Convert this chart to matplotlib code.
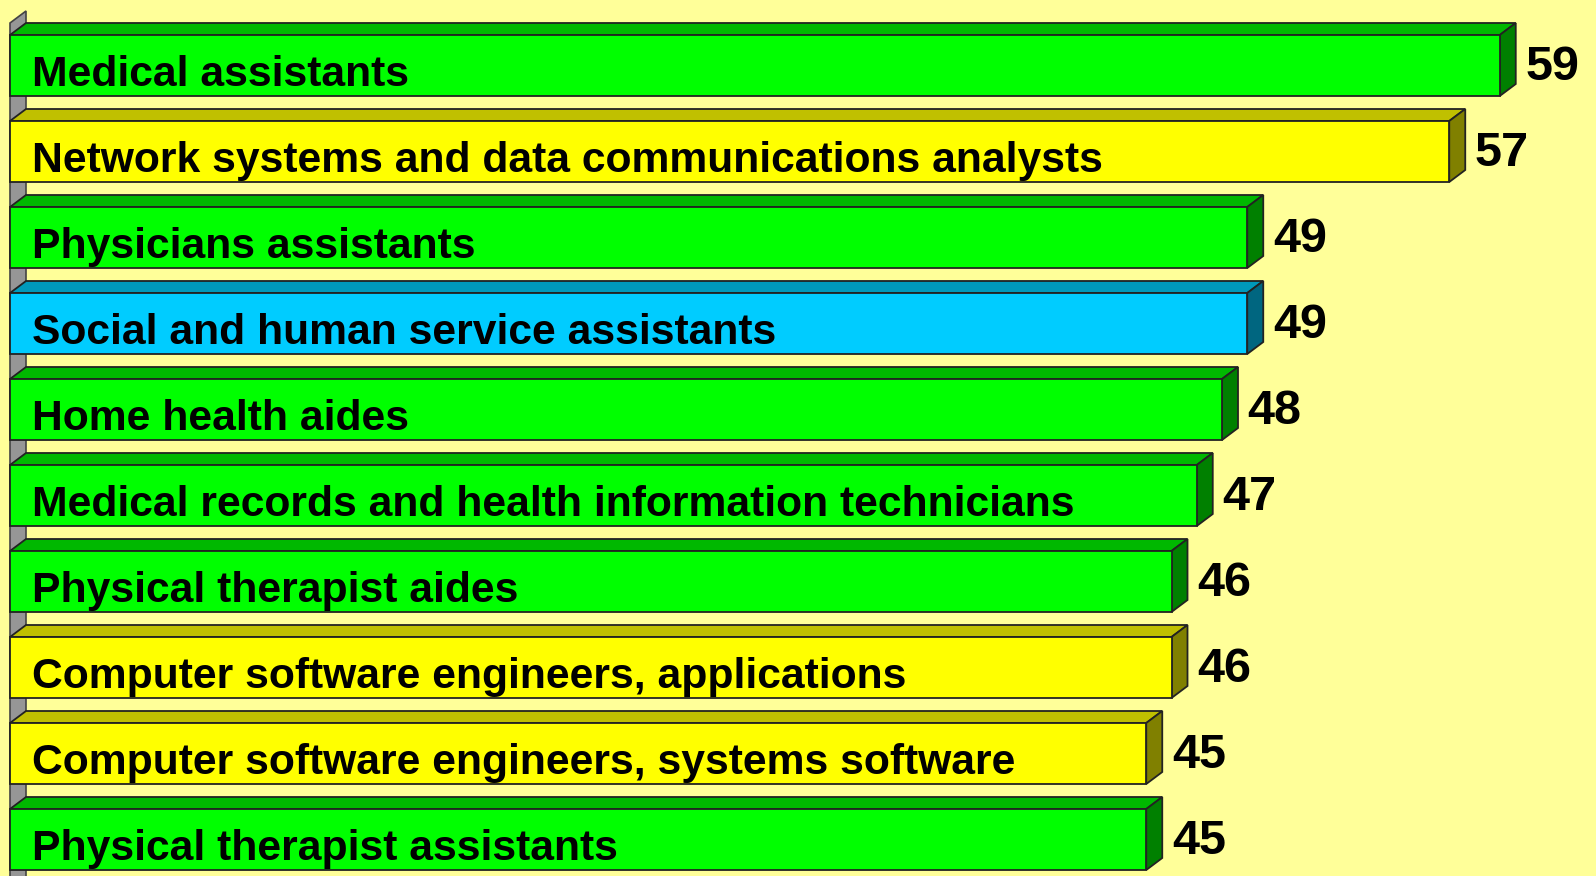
import matplotlib
matplotlib.use("Agg")
import matplotlib.pyplot as plt
from matplotlib.patches import Polygon, Rectangle

categories = [
    "Medical assistants",
    "Network systems and data communications analysts",
    "Physicians assistants",
    "Social and human service assistants",
    "Home health aides",
    "Medical records and health information technicians",
    "Physical therapist aides",
    "Computer software engineers, applications",
    "Computer software engineers, systems software",
    "Physical therapist assistants",
]
values = [59, 57, 49, 49, 48, 47, 46, 46, 45, 45]
groups = ["health", "tech", "health", "social", "health", "health",
          "health", "tech", "tech", "health"]

palette = {
    "health": ("#00FF00", "#00B800", "#008000"),
    "tech": ("#FFFF00", "#C0C000", "#808000"),
    "social": ("#00CCFF", "#0099BB", "#006680"),
}

W, H = 1596, 876
fig = plt.figure(figsize=(W / 100, H / 100), dpi=100)
fig.patch.set_facecolor("#FFFF99")
ax = fig.add_axes([0, 0, 1, 1])
ax.set_facecolor("#FFFF99")

# pixel geometry -> data units
px_per_val = 25.25
x_left_px = 10
pitch_px = 86
top0_px = 35
ax.set_xlim(-x_left_px / px_per_val, (W - x_left_px) / px_per_val)
ax.set_ylim((H - top0_px) / pitch_px, -top0_px / pitch_px)
ax.axis("off")

h = 61 / pitch_px
dx = 16 / px_per_val
dy = 12 / pitch_px

# back wall
ybot = (H + 5 - top0_px) / pitch_px
wall = Polygon([(0, -dy), (dx, -2 * dy), (dx, ybot), (0, ybot)],
               closed=True, facecolor="#969696", edgecolor="#444444", lw=1.2, zorder=1)
ax.add_patch(wall)

for i, (cat, v, g) in enumerate(zip(categories, values, groups)):
    front, top, side = palette[g]
    y = i
    ax.add_patch(Polygon([(0, y), (dx, y - dy), (v + dx, y - dy), (v, y)],
                         closed=True, facecolor=top, edgecolor="#222222", lw=1.3, zorder=2))
    ax.add_patch(Polygon([(v, y), (v + dx, y - dy), (v + dx, y + h - dy), (v, y + h)],
                         closed=True, facecolor=side, edgecolor="#222222", lw=1.3, zorder=2))
    ax.add_patch(Rectangle((0, y), v, h, facecolor=front, edgecolor="#222222",
                           lw=1.3, zorder=3))
    ax.annotate(cat, xy=(0, y + 51 / pitch_px), xytext=(16, 0), textcoords="offset points",
                ha="left", va="baseline", fontsize=30.7, fontweight="bold",
                family="Liberation Sans", color="black", zorder=4)
    ax.annotate(str(v), xy=(v + dx, y + h / 2 - 3 / pitch_px), xytext=(7, 0),
                textcoords="offset points", ha="left", va="center_baseline",
                fontsize=35, fontweight="bold", family="Liberation Sans",
                color="black", zorder=4)

fig.savefig("out.png", dpi=100, facecolor=fig.get_facecolor())
